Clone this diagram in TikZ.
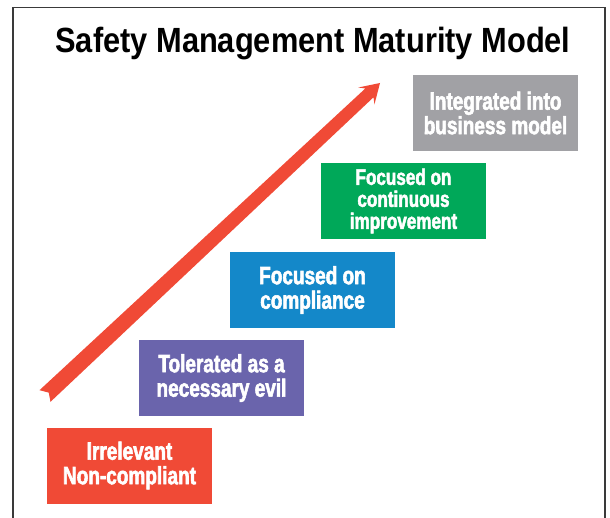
\documentclass[tikz,border=0pt]{standalone}
\usepackage{fontspec}
\setmainfont{Liberation Sans}
\newfontfamily\titlefont{Liberation Sans}[UprightFont={* Bold},FakeStretch=0.88]
\newfontfamily\stagefont{Liberation Sans}[UprightFont={* Bold},FakeStretch=0.76,FakeBold=2.2]

\definecolor{stagered}{HTML}{F04A36}
\definecolor{stagepurple}{HTML}{6A64AC}
\definecolor{stageblue}{HTML}{1488C9}
\definecolor{stagegreen}{HTML}{00A859}
\definecolor{stagegray}{HTML}{A1A1A5}
\definecolor{framegray}{HTML}{3A3A3A}

\tikzset{
  stagebox/.style={fill=#1, text=white, minimum width=165pt, minimum height=76pt,
    inner sep=0pt, align=center, font=\stagefont\fontsize{25}{24.5}\selectfont},
  frameline/.style={draw=framegray, line width=1.5pt},
}

\begin{document}
\begin{tikzpicture}[x=1pt, y=-1pt]
  \useasboundingbox (0,0) rectangle (610,518);

  % open frame around the chart
  \coordinate (fbl) at (13,518);
  \coordinate (ftl) at (13,7.5);
  \coordinate (ftr) at (605,7.5);
  \coordinate (fbr) at (605,518);
  \draw[frameline] (fbl) -- (ftl) -- (ftr) -- (fbr);

  % title
  \node[anchor=base, font=\titlefont\fontsize{35}{36}\selectfont] (title) at (313,53)
    {Safety Management Maturity Model};

  % rising arrow (notched tail, broad head)
  \coordinate (tailtop) at (39.5,390.2);
  \coordinate (notch)   at (48.7,392.6);
  \coordinate (tailbot) at (50.5,401.8);
  \coordinate (shaftbot) at (373.5,97.3);
  \coordinate (barbbot) at (374.5,104.3);
  \coordinate (tip)     at (380,83);
  \coordinate (barbtop) at (358.3,87.5);
  \coordinate (shafttop) at (365.3,88.5);
  \fill[stagered] (tailtop) -- (notch) -- (tailbot) -- (shaftbot) -- (barbbot)
    -- (tip) -- (barbtop) -- (shafttop) -- cycle;

  % maturity stages
  \node[stagebox=stagered]    (s1) at (129.5,465.5) {Irrelevant\\Non-compliant};
  \node[stagebox=stagepurple] (s2) at (221.5,378)   {Tolerated as a\\necessary evil};
  \node[stagebox=stageblue]   (s3) at (312.5,290)   {Focused on\\compliance};
  \node[stagebox=stagegreen, font=\stagefont\fontsize{22.5}{22}\selectfont]
                              (s4) at (403.5,201)   {Focused on\\continuous\\improvement};
  \node[stagebox=stagegray]   (s5) at (495.5,113)   {Integrated into\\business model};
\end{tikzpicture}
\end{document}
